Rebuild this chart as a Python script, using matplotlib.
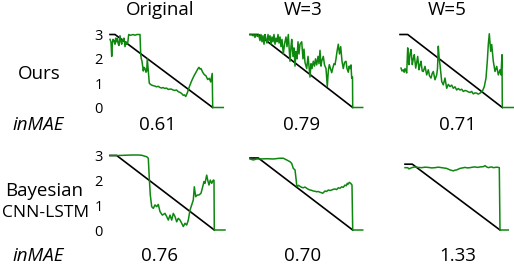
"""RUL prediction comparison grid: Ours vs Bayesian CNN-LSTM."""
import matplotlib
matplotlib.use('Agg')
import matplotlib.pyplot as plt

# ---- data ---------------------------------------------------------------
col_titles = ['Original', 'W=3', 'W=5']
row_labels = [['Ours'], ['Bayesian', 'CNN-LSTM']]
score_label = 'inMAE'
scores_ours = ['0.61', '0.79', '0.71']
scores_bayes = ['0.76', '0.70', '1.33']
y_ticks = [0, 1, 2, 3]

# true (normalised) RUL, piecewise: flat then linear to zero
true_t_ours = [[0, 5, 102.7], [0, 8.3, 102.7], [0, 7.7, 102.3]]
true_y_ours = [[3, 3, 0], [3, 3, 0], [3, 3, 0]]
true_t_bayes = [[0, 6.7, 104.3], [0, 8.3, 102.7], [0, 7.3, 95]]
true_y_bayes = [[3, 3, 0], [2.9, 2.9, 0], [2.65, 2.65, 0]]

# Ours, original data
ours_orig_t = [0, 1, 1.7, 2.3, 3, 4, 5, 5.7, 6.5, 7.3,
               8, 9, 10, 11, 11.7, 12.5, 13.3, 14, 15, 16,
               16.7, 17.7, 18.7, 20, 21.7, 23, 25, 27, 30, 30.7,
               31.3, 32, 33.3, 34, 35, 36, 36.7, 37.3, 38.3, 39.3,
               40.5, 41.7, 43, 45, 46.5, 48.3, 50, 51.7, 53, 55,
               56.5, 58.3, 60, 61.7, 63, 65, 66.5, 68.3, 70, 71.5,
               73.3, 74.5, 75.7, 77.3, 79.3, 81.7, 84, 86.7, 88, 89,
               90, 91, 92.7, 94.3, 96, 97.7, 99.3, 100.7, 102.2, 102.7,
               113.3]
ours_orig_y = [2.8, 2.7, 2.1, 2.6, 2.8, 2.75, 2.6, 2.85, 2.7, 2.85,
               2.65, 2.55, 2.95, 2.7, 2.6, 2.8, 2.75, 2.85, 2.5, 2.7,
               2.6, 2.65, 3.0, 2.97, 2.98, 3.0, 2.97, 3.0, 3.0, 2.2,
               2.0, 1.9, 1.5, 1.65, 1.6, 1.45, 1.5, 2.0, 1.5, 1.0,
               0.95, 0.92, 0.9, 0.88, 0.85, 0.87, 0.82, 0.8, 0.82, 0.78,
               0.8, 0.74, 0.76, 0.75, 0.72, 0.7, 0.72, 0.65, 0.62, 0.58,
               0.5, 0.52, 0.45, 0.6, 0.85, 1.1, 1.3, 1.5, 1.6, 1.65,
               1.58, 1.6, 1.45, 1.35, 1.3, 1.15, 1.2, 1.05, 1.4, 0,
               0]

# Ours, W=3
ours_w3_t = [0, 1.5, 3, 4, 5, 6, 7.5, 8.5, 10, 11,
             12, 13, 14, 15, 16, 17, 18, 19, 20, 21,
             22, 23, 24, 25, 26, 27, 28, 29, 30, 31,
             32, 33.3, 34.5, 36, 37, 38.3, 39.2, 40, 41, 41.7,
             43, 44, 45, 46, 47, 48, 49, 50, 51.7, 53,
             54, 55, 56.7, 58, 59, 60, 61, 62, 63.3, 64.5,
             65.5, 66.7, 68, 69, 70, 71, 71.7, 73.3, 74.5, 76,
             77.3, 78.3, 79.3, 80.5, 81.7, 83, 84, 85, 86, 87,
             88.3, 89.5, 90.7, 92, 93.3, 94.5, 96, 97, 98.3, 99.2,
             100, 101, 101.7, 102.5, 102.7, 112.7]
ours_w3_y = [3.0, 3.0, 2.95, 3.0, 2.88, 3.0, 2.92, 3.0, 2.75, 3.0,
             2.7, 2.95, 2.6, 3.0, 2.8, 2.65, 3.0, 2.75, 2.95, 2.6,
             2.9, 2.7, 3.0, 2.6, 2.85, 2.7, 3.0, 2.65, 2.9, 2.5,
             2.8, 2.2, 2.6, 2.9, 2.5, 3.0, 2.4, 1.9, 2.5, 2.8,
             2.1, 2.45, 1.7, 2.3, 2.0, 2.7, 2.2, 2.6, 2.7, 2.0,
             2.4, 1.85, 1.6, 2.1, 1.7, 1.25, 1.8, 1.6, 1.9, 1.7,
             2.0, 1.75, 2.1, 1.8, 2.35, 1.7, 1.9, 2.1, 1.75, 1.6,
             0.86, 1.5, 1.76, 1.6, 1.43, 1.65, 1.8, 1.76, 2.0, 2.3,
             2.6, 2.2, 2.5, 1.9, 1.6, 1.85, 1.9, 1.6, 1.45, 1.7,
             1.6, 1.75, 1.2, 1.25, 0, 0]

# Ours, W=5
ours_w5_t = [1, 2, 3.3, 4.2, 5, 6, 6.7, 7.7, 8.3, 9,
             10, 11, 12.3, 13.3, 14.3, 15.7, 16.7, 17.7, 19, 20,
             21, 22.2, 23.3, 25, 26.7, 28.3, 29.5, 31, 32.2, 33.3,
             35, 36.7, 37.5, 38.3, 39.2, 40, 41.7, 43.3, 45, 46.7,
             48.3, 50, 51.7, 53.3, 55, 56.7, 58.3, 60, 61.7, 63.3,
             65, 66.7, 68.3, 70, 71.7, 73.3, 75, 76.7, 78.3, 80,
             82.3, 84.3, 86, 87.3, 88.3, 89.3, 90.7, 91.7, 93.3, 95,
             96.7, 98.3, 100, 101, 102, 102.3, 113.3]
ours_w5_y = [1.62, 1.5, 1.55, 1.45, 1.6, 1.5, 1.42, 2.45, 1.9, 1.76,
             2.2, 2.38, 1.76, 2.0, 2.17, 1.62, 1.85, 2.1, 1.55, 1.75,
             1.9, 1.5, 1.48, 1.69, 1.34, 1.55, 1.3, 1.21, 1.4, 1.48,
             1.14, 1.34, 1.6, 2.52, 2.0, 1.76, 1.07, 0.93, 1.21, 0.79,
             0.95, 0.86, 0.92, 0.79, 0.85, 0.72, 0.78, 0.72, 0.75, 0.66,
             0.7, 0.68, 0.64, 0.62, 0.66, 0.56, 0.6, 0.59, 0.55, 0.59,
             0.66, 0.86, 1.21, 1.9, 2.59, 3.03, 2.31, 2.59, 1.9, 1.48,
             1.69, 1.34, 1.55, 1.34, 2.17, 0, 0]

# Bayesian CNN-LSTM, original data
bayes_orig_t = [0, 8.3, 15, 21.7, 28.3, 31.7, 33.3, 36.7, 38.3, 39.3,
                40.3, 41.7, 43.3, 45, 46.7, 48.3, 50, 52.3, 55, 56.7,
                58.3, 60, 61.7, 63.3, 65, 66.7, 68.3, 70, 71.7, 73.3,
                75, 76.7, 78.3, 80, 81.7, 83.3, 84.3, 85.7, 87.3, 89,
                91, 92.3, 94, 95, 96.7, 97.7, 99, 100.3, 101.7, 103.3,
                104, 104.3, 115]
bayes_orig_y = [3.0, 3.0, 3.01, 3.02, 3.02, 3.01, 2.99, 2.95, 2.89, 2.08,
                1.41, 0.94, 0.87, 1.01, 0.94, 1.03, 0.74, 0.6, 0.67, 0.54,
                0.4, 0.6, 0.4, 0.67, 0.54, 0.33, 0.47, 0.4, 0.27, 0.14,
                0.27, 0.2, 0.4, 0.8, 1.01, 1.21, 1.74, 1.34, 1.41, 1.41,
                1.48, 1.68, 1.95, 1.88, 2.21, 2.01, 1.81, 2.01, 1.88, 2.01,
                2.0, 0, 0]

# Bayesian CNN-LSTM, W=3
bayes_w3_t = [0, 3.3, 6.7, 10, 16.7, 23.3, 30, 33.3, 36.7, 40,
              41.7, 43.3, 45, 46, 46.7, 47.3, 48.5, 50, 51.5, 53.3,
              55, 56.7, 58.3, 60, 61.5, 63.3, 65, 66.7, 68.3, 70,
              71.5, 72.7, 74, 75, 76.5, 78.3, 80, 81.7, 83.3, 85,
              86.7, 88.3, 90, 91.7, 93.3, 95, 96.3, 97.3, 98.3, 99.3,
              100.7, 102, 102.7, 112.7]
bayes_w3_y = [2.86, 2.82, 2.86, 2.86, 2.87, 2.86, 2.89, 2.89, 2.82, 2.75,
              2.68, 2.48, 2.42, 2.08, 1.81, 1.74, 1.8, 1.76, 1.72, 1.70,
              1.73, 1.68, 1.64, 1.61, 1.6, 1.57, 1.56, 1.54, 1.55, 1.52,
              1.5, 1.48, 1.53, 1.57, 1.55, 1.61, 1.59, 1.61, 1.64, 1.65,
              1.63, 1.70, 1.68, 1.74, 1.72, 1.81, 1.78, 1.88, 1.85, 1.92,
              1.88, 1.81, 0, 0]

# Bayesian CNN-LSTM, W=5
bayes_w5_t = [0, 2.7, 4, 6.7, 10, 13.3, 16.7, 20, 23.3, 26.7,
              30, 33.3, 36.7, 40, 41.7, 43.3, 45, 46.7, 48.3, 50,
              51.7, 55, 57.5, 60, 62.5, 65, 67.5, 70, 72.5, 75,
              78.3, 80, 81.7, 83.3, 85, 86.7, 88.3, 90, 92.2, 94.3,
              95, 103.3]
bayes_w5_y = [2.51, 2.51, 2.46, 2.51, 2.54, 2.52, 2.51, 2.53, 2.52, 2.5,
              2.51, 2.53, 2.51, 2.49, 2.48, 2.45, 2.42, 2.4, 2.38, 2.41,
              2.42, 2.48, 2.5, 2.52, 2.5, 2.51, 2.53, 2.54, 2.52, 2.54,
              2.55, 2.59, 2.54, 2.51, 2.53, 2.54, 2.51, 2.52, 2.53, 2.51,
              0, 0]

pred_t = [[ours_orig_t, ours_w3_t, ours_w5_t],
          [bayes_orig_t, bayes_w3_t, bayes_w5_t]]
pred_y = [[ours_orig_y, ours_w3_y, ours_w5_y],
          [bayes_orig_y, bayes_w3_y, bayes_w5_y]]
true_t = [true_t_ours, true_t_bayes]
true_y = [true_y_ours, true_y_bayes]
scores = [scores_ours, scores_bayes]

# ---- layout (pixels) ----------------------------------------------------
W, H = 514, 264
FONT = 'Open Sans'
TEXT_SIZE = 13.5
TICK_SIZE = 10.5
GREEN = '#0e870e'

panel_left = [[110, 250, 400], [110, 250, 405]]
row_span = [(34.5, 107.5), (155.5, 230)]   # pixel y of value 3 and 0
title_x = [160, 303, 447]
score_x = [[158, 302, 458], [159, 303, 458]]
score_base = [129.5, 261]
row_label_x = [[39], [44, 46]]
row_label_base = [[79], [196, 217]]
row_label_size = [[TEXT_SIZE], [TEXT_SIZE, 12.5]]


def fx(x):
    return x / W


def fy(y):
    return 1 - y / H


fig = plt.figure(figsize=(W / 100, H / 100), dpi=100)

for r in range(2):
    y3, y0 = row_span[r]
    for c in range(3):
        t_end = pred_t[r][c][-1]
        left = panel_left[r][c]
        # one data unit on x = one pixel
        ax = fig.add_axes([fx(left), fy(y0), t_end / W, (y0 - y3) / H])
        ax.plot(true_t[r][c], true_y[r][c], color='black', lw=1.2,
                clip_on=False)
        ax.plot(pred_t[r][c], pred_y[r][c], color=GREEN, lw=1.1,
                clip_on=False)
        ax.set_xlim(0, t_end)
        ax.set_ylim(0, 3)
        for s in ax.spines.values():
            s.set_visible(False)
        ax.set_xticks([])
        ax.patch.set_alpha(0)
        if c == 0:
            ax.set_yticks(y_ticks)
            ax.tick_params(axis='y', length=0, pad=5, labelsize=TICK_SIZE)
            for lab in ax.get_yticklabels():
                lab.set_fontfamily(FONT)
        else:
            ax.set_yticks([])

        fig.text(fx(score_x[r][c]), fy(score_base[r]), scores[r][c],
                 ha='center', va='baseline', fontsize=TEXT_SIZE, family=FONT)

    fig.text(fx(38), fy(score_base[r]), score_label, ha='center',
             va='baseline', fontsize=TEXT_SIZE, family=FONT, style='italic')

    # row labels, one text per line
    for txt, x, base, size in zip(row_labels[r], row_label_x[r],
                                  row_label_base[r], row_label_size[r]):
        fig.text(fx(x), fy(base), txt, ha='center', va='baseline',
                 fontsize=size, family=FONT)

# column titles
for c in range(3):
    fig.text(fx(title_x[c]), fy(15), col_titles[c], ha='center',
             va='baseline', fontsize=TEXT_SIZE, family=FONT)

fig.savefig('out.png', dpi=100)
